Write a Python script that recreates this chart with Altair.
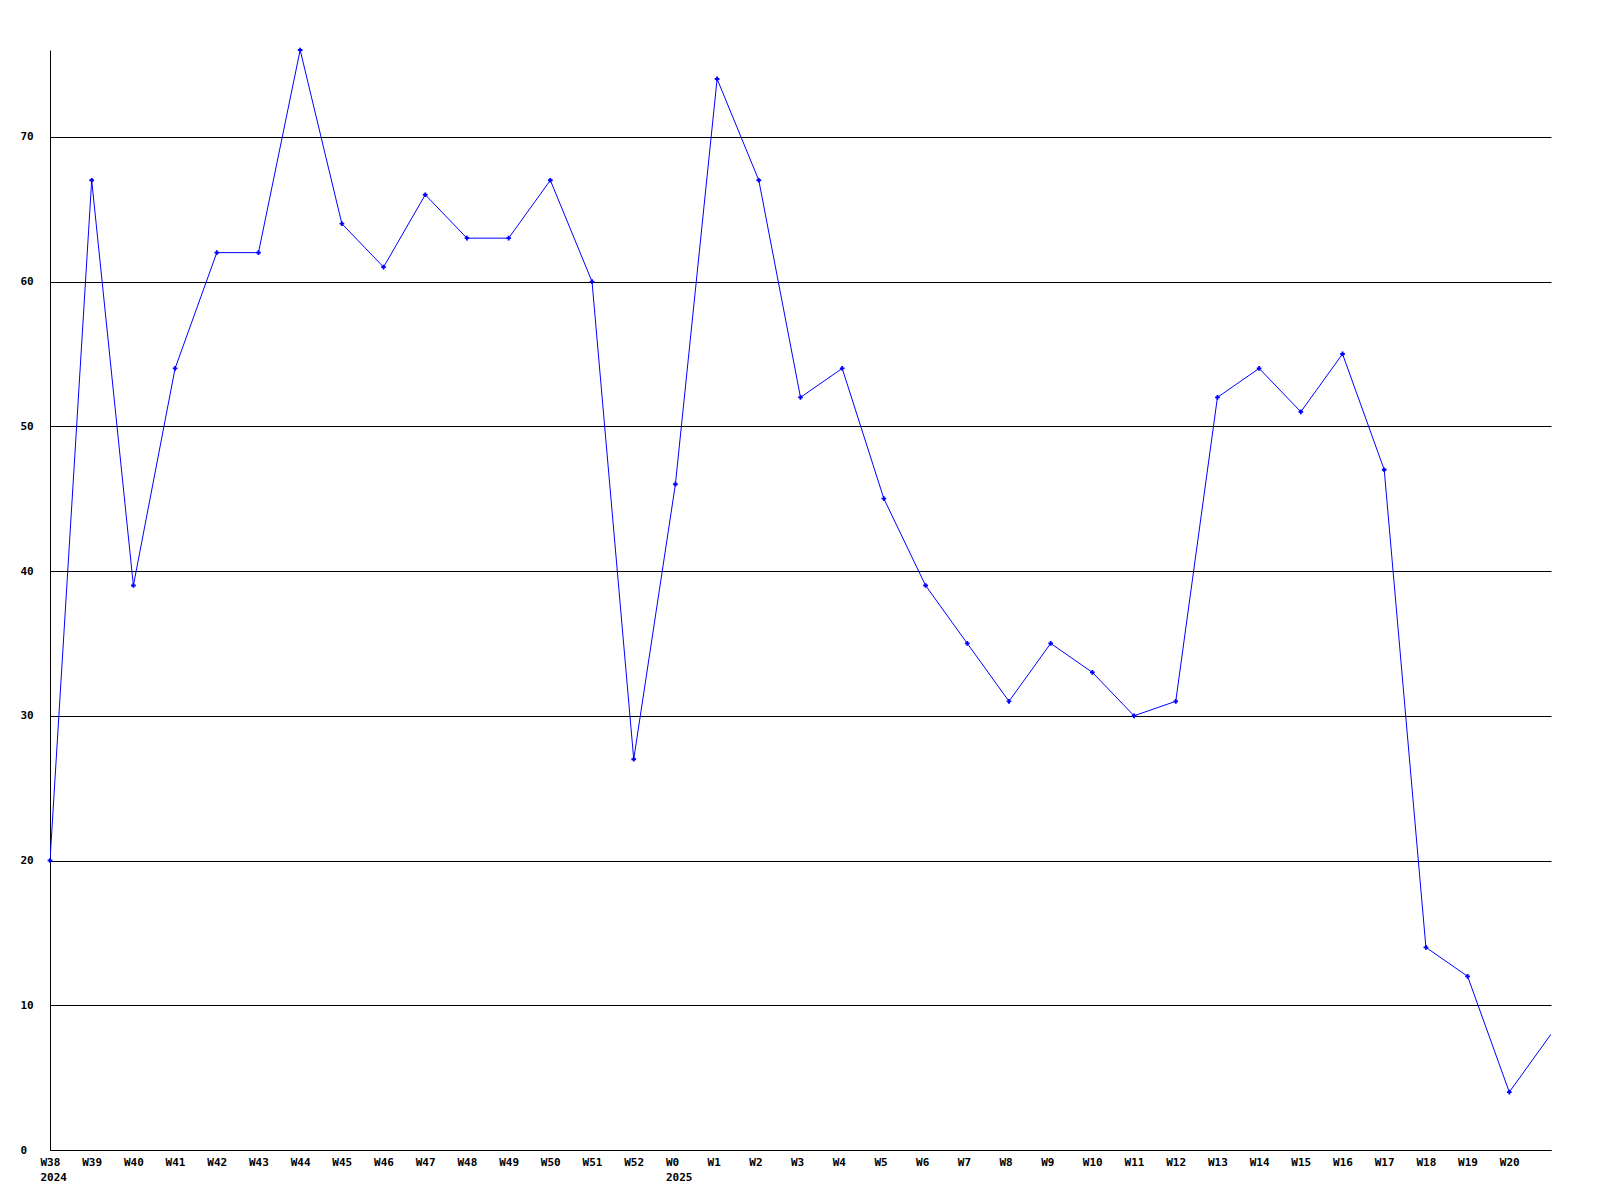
import altair as alt
import pandas as pd

weeks = ["W38", "W39", "W40", "W41", "W42", "W43", "W44", "W45", "W46", "W47",
         "W48", "W49", "W50", "W51", "W52", "W0", "W1", "W2", "W3", "W4",
         "W5", "W6", "W7", "W8", "W9", "W10", "W11", "W12", "W13", "W14",
         "W15", "W16", "W17", "W18", "W19", "W20", "W21"]
values = [20, 67, 39, 54, 62, 62, 76, 64, 61, 66,
          63, 63, 67, 60, 27, 46, 74, 67, 52, 54,
          45, 39, 35, 31, 35, 33, 30, 31, 52, 54,
          51, 55, 47, 14, 12, 4, 8]
year_weeks = ["W38", "W0"]
year_labels = ["2024", "2025"]
y_ticks = [0, 10, 20, 30, 40, 50, 60, 70]
labelled_weeks = weeks[:-1]

df = pd.DataFrame({"week": weeks, "value": values})
df_pts = df.iloc[:-1]

expr = "datum.label"
for w, yl in zip(year_weeks, year_labels):
    expr = f"datum.label == '{w}' ? ['{w}', '{yl}'] : (" + expr + ")"

FONT = "DejaVu Sans Mono"

x_enc = alt.X(
    "week:N",
    sort=weeks,
    scale=alt.Scale(type="point", padding=0),
    axis=alt.Axis(
        title=None, values=labelled_weeks, labelExpr=expr, labelAngle=0,
        labelAlign="left", labelOffset=-10, labelBaseline="top", labelPadding=6,
        labelLineHeight=15, ticks=False, grid=False, domainColor="black",
        labelFont=FONT, labelFontSize=11, labelFontWeight="bold", labelColor="black",
        labelOverlap=False,
    ),
)
y_enc = alt.Y(
    "value:Q",
    scale=alt.Scale(domain=[0, 76], nice=False, zero=True),
    axis=alt.Axis(
        title=None, values=y_ticks, ticks=False, grid=True, gridColor="black",
        gridOpacity=1, gridWidth=1, domainColor="black", labelAlign="left",
        labelPadding=30, labelFont=FONT, labelFontSize=11, labelFontWeight="bold",
        labelColor="black", labelBaseline="middle",
    ),
)

line = alt.Chart(df).mark_line(color="#0000FF", strokeWidth=1, clip=True).encode(x=x_enc, y=y_enc)
pts = alt.Chart(df_pts).mark_point(shape="cross", filled=True, color="#0000FF", size=22, opacity=1).encode(x=x_enc, y=y_enc)

chart = alt.layer(line, pts).properties(
    width=1501, height=1100,
    autosize=alt.AutoSizeParams(type="none"),
    padding={"left": 42, "top": 42, "right": 40, "bottom": 40},
    background="white",
).configure_view(stroke=None)

chart.save("out.html", embed_options={"renderer": "svg", "actions": False})
